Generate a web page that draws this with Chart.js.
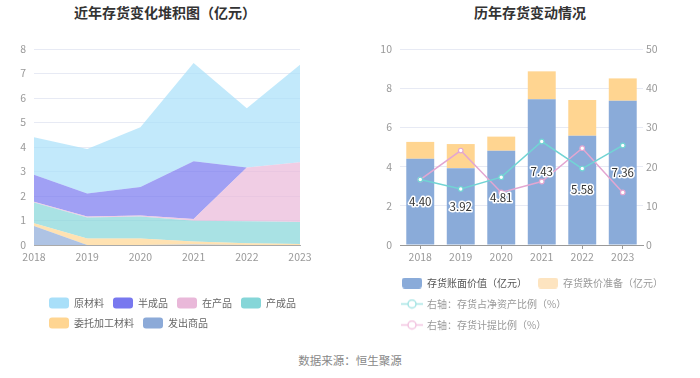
<!DOCTYPE html>
<html><head><meta charset="utf-8">
<script src="https://cdn.jsdelivr.net/npm/chart.js@4"></script>
<style>
html,body{margin:0;padding:0;background:#fff;width:700px;height:378px;overflow:hidden;font-family:"Noto Sans CJK SC","Noto Sans",sans-serif;}
#c1{position:absolute;left:0;top:0;}
#c2{position:absolute;left:360px;top:0;}
.title{position:absolute;top:3px;font-weight:bold;font-size:14px;color:#333;white-space:nowrap;transform:translateX(-50%);line-height:18px;}
#t1{left:165px;} #t2{left:530px;}
#src{position:absolute;left:350px;top:352px;transform:translateX(-50%);font-size:11.5px;color:#888;white-space:nowrap;line-height:16px;}
</style></head>
<body>
<div class="title" id="t1">近年存货变化堆积图（亿元）</div>
<div class="title" id="t2">历年存货变动情况</div>
<canvas id="c1" width="330" height="345"></canvas>
<canvas id="c2" width="340" height="345"></canvas>
<div id="src">数据来源：恒生聚源</div>
<script>
// ---- data ----
const years = ['2018', '2019', '2020', '2021', '2022', '2023'];
// left stacked chart (亿元), stack order bottom -> top
const shipped      = [0.78, 0.00, 0.00, 0.02, 0.00, 0.00]; // 发出商品
const consigned    = [0.11, 0.27, 0.27, 0.12, 0.07, 0.04]; // 委托加工材料
const finished     = [0.84, 0.85, 0.89, 0.85, 0.90, 0.90]; // 产成品
const wip          = [0.04, 0.04, 0.04, 0.07, 2.19, 2.44]; // 在产品
const semiFinished = [1.10, 0.94, 1.17, 2.36, 0.00, 0.00]; // 半成品
const rawMaterial  = [1.53, 1.82, 2.44, 4.01, 2.42, 3.98]; // 原材料
// right chart
const bookValue      = [4.40, 3.92, 4.81, 7.43, 5.58, 7.36]; // 存货账面价值（亿元）
const reserve        = [0.86, 1.23, 0.72, 1.43, 1.82, 1.14]; // 存货跌价准备（亿元）
const netAssetRatio  = [16.7, 14.3, 17.3, 26.4, 19.5, 25.4]; // 存货占净资产比例（%）
const provisionRatio = [16.7, 24.1, 13.4, 16.2, 24.7, 13.4]; // 存货计提比例（%）
const leftTicksMax = 8, rightTicksMax = 10, rightPctMax = 50;

const FONT = '"Noto Sans CJK SC", "Noto Sans", sans-serif';
Chart.defaults.font.family = FONT;

function rgba(hex, a) {
  const n = parseInt(hex.slice(1), 16);
  return `rgba(${n >> 16},${(n >> 8) & 255},${n & 255},${a})`;
}
const shiftLegend = (dx) => ({
  id: 'shiftLegend',
  afterLayout(chart) { const l = chart.legend; if (l) { l.left += dx; l.right += dx; } }
});

// ---- left chart ----
const leftSeries = [
  ['发出商品', shipped, '#8caad8'],
  ['委托加工材料', consigned, '#ffd591'],
  ['产成品', finished, '#85d6d8'],
  ['在产品', wip, '#e9b8d9'],
  ['半成品', semiFinished, '#7878ef'],
  ['原材料', rawMaterial, '#a8dff9'],
];
const tickFont = { size: 10.5 };
const tickColor = '#999';
const gridColor = '#e7eaf4';

new Chart(document.getElementById('c1'), {
  type: 'line',
  data: {
    labels: years,
    datasets: leftSeries.map((s, i) => ({
      label: s[0], data: s[1],
      backgroundColor: rgba(s[2], 0.7),
      borderColor: rgba(s[2], 0.0),
      borderWidth: 1,
      fill: i === 0 ? 'origin' : '-1',
      pointRadius: 0, tension: 0,
      legendColor: s[2]
    }))
  },
  options: {
    responsive: false, animation: false, devicePixelRatio: 1,
    layout: { padding: { top: 49, left: 0, right: 30, bottom: 6.5 } },
    scales: {
      x: {
        offset: false,
        grid: { display: false, drawTicks: false },
        border: { display: true, color: '#aaa' },
        ticks: { color: tickColor, font: tickFont, padding: 5.4, maxRotation: 0 },
        afterFit(s) { s.height = 43.5; }
      },
      y: {
        stacked: true, min: 0, max: leftTicksMax,
        ticks: { stepSize: 1, color: tickColor, font: tickFont, padding: 8 },
        grid: { color: gridColor, drawTicks: false },
        border: { display: false },
        afterFit(s) { s.width = 34; }
      }
    },
    plugins: {
      tooltip: { enabled: false },
      legend: {
        position: 'bottom', align: 'start', reverse: true,
        labels: {
          boxWidth: 20, boxHeight: 11, padding: 9, font: { size: 10 }, color: '#666',
          useBorderRadius: true, borderRadius: 3,
          generateLabels(chart) {
            return chart.data.datasets.map((ds, i) => ({
              text: ds.label, fillStyle: ds.legendColor, strokeStyle: ds.legendColor,
              lineWidth: 0, fontColor: '#666', borderRadius: 3, datasetIndex: i, hidden: false
            }));
          }
        }
      }
    }
  },
  plugins: [shiftLegend(40)]
});

// ---- right chart ----
function boxIcon(color) {
  const c = document.createElement('canvas'); c.width = 20; c.height = 11;
  const g = c.getContext('2d'); g.fillStyle = color;
  g.beginPath(); g.roundRect(0, 0, 20, 11, 3); g.fill();
  return c;
}
function lineIcon(color) {
  const c = document.createElement('canvas'); c.width = 22; c.height = 11;
  const g = c.getContext('2d'); g.strokeStyle = color; g.lineWidth = 1.5;
  g.beginPath(); g.moveTo(0, 5.5); g.lineTo(22, 5.5); g.stroke();
  g.fillStyle = '#fff'; g.beginPath(); g.arc(11, 5.5, 4, 0, Math.PI * 2); g.fill(); g.stroke();
  return c;
}
const rightIcons = [boxIcon('#8aabd9'), boxIcon('#fde4c0'), lineIcon('#a6e4e4'), lineIcon('#f2c4e0')];
const rightTextColors = ['#555', '#999', '#999', '#999'];

const barLabels = {
  id: 'barLabels',
  afterDatasetsDraw(chart) {
    const meta = chart.getDatasetMeta(0);
    const data = chart.data.datasets[0].data;
    const ctx = chart.ctx;
    ctx.save();
    ctx.font = '11.5px ' + FONT;
    ctx.textAlign = 'center'; ctx.textBaseline = 'middle';
    ctx.lineWidth = 3; ctx.lineJoin = 'round';
    ctx.strokeStyle = '#fff'; ctx.fillStyle = '#333';
    meta.data.forEach((el, i) => {
      const t = data[i].toFixed(2);
      const y = (el.y + el.base) / 2;
      ctx.strokeText(t, el.x, y);
      ctx.fillText(t, el.x, y);
    });
    ctx.restore();
  }
};

const lineDs = (label, data, color) => ({
  type: 'line', label, data, yAxisID: 'y1', order: 0,
  borderColor: color, borderWidth: 1.5, tension: 0, fill: false,
  pointRadius: 2.3, pointBorderWidth: 1.2, pointBackgroundColor: '#fff', pointBorderColor: color
});

new Chart(document.getElementById('c2'), {
  type: 'bar',
  data: {
    labels: years,
    datasets: [
      { type: 'bar', label: '存货账面价值（亿元）', data: bookValue, backgroundColor: '#8aabd9',
        stack: 's', yAxisID: 'y', order: 1, categoryPercentage: 1, barPercentage: 0.69 },
      { type: 'bar', label: '存货跌价准备（亿元）', data: reserve, backgroundColor: '#ffd591',
        stack: 's', yAxisID: 'y', order: 1, categoryPercentage: 1, barPercentage: 0.69 },
      lineDs('右轴：存货占净资产比例（%）', netAssetRatio, '#72d4d4'),
      lineDs('右轴：存货计提比例（%）', provisionRatio, '#e3a6d1')
    ]
  },
  options: {
    responsive: false, animation: false, devicePixelRatio: 1,
    layout: { padding: { top: 49, left: 0, right: 30, bottom: 5 } },
    scales: {
      x: {
        stacked: true, offset: true,
        grid: { display: true, drawOnChartArea: false, drawTicks: true, tickLength: 4, color: '#999', offset: false },
        border: { display: true, color: '#999' },
        ticks: { color: tickColor, font: tickFont, padding: 1.4, maxRotation: 0 },
        afterFit(s) { s.height = 22; }
      },
      y: {
        stacked: true, min: 0, max: rightTicksMax,
        ticks: { stepSize: 2, color: tickColor, font: tickFont, padding: 8 },
        grid: { color: gridColor, drawTicks: false },
        border: { display: false },
        afterFit(s) { s.width = 40; }
      },
      y1: {
        position: 'right', min: 0, max: rightPctMax,
        ticks: { stepSize: 10, color: tickColor, font: tickFont, padding: 3 },
        grid: { display: false, drawTicks: false },
        border: { display: false },
        afterFit(s) { s.width = 27; }
      }
    },
    plugins: {
      tooltip: { enabled: false },
      legend: {
        position: 'bottom', align: 'start',
        labels: {
          usePointStyle: true, pointStyleWidth: 20, padding: 11, font: { size: 10 },
          generateLabels(chart) {
            return chart.data.datasets.map((ds, i) => ({
              text: ds.label, fillStyle: '#fff', strokeStyle: '#fff', lineWidth: 0,
              pointStyle: rightIcons[i], fontColor: rightTextColors[i], datasetIndex: i, hidden: false
            }));
          }
        }
      }
    }
  },
  plugins: [shiftLegend(31), barLabels]
});
</script>
</body></html>
